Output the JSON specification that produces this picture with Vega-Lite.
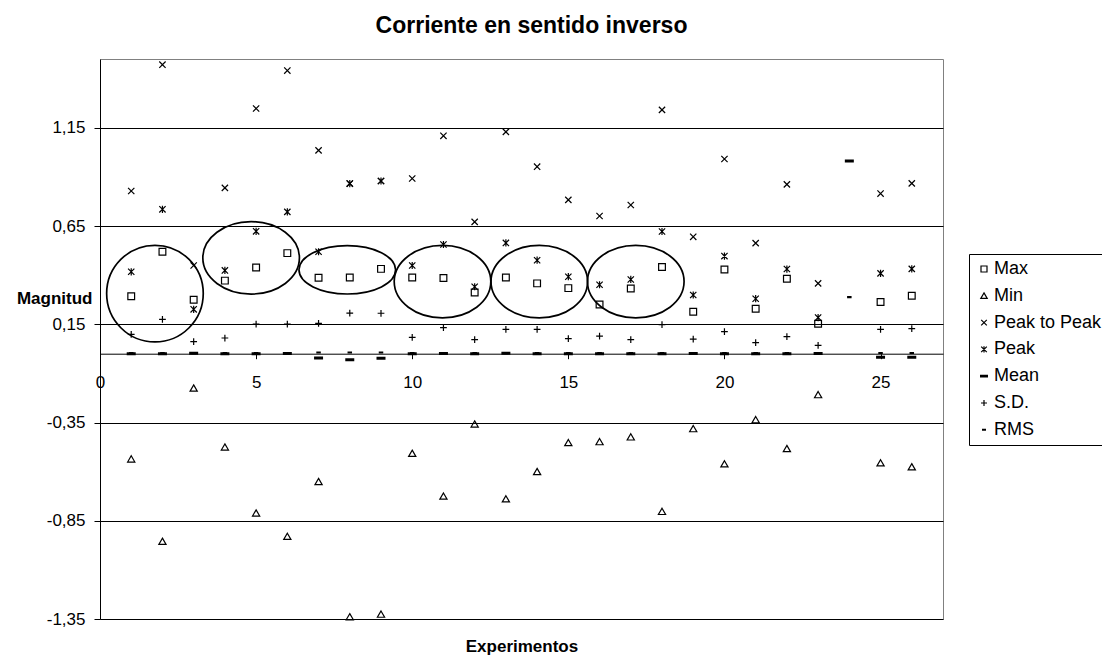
{
  "$schema": "https://vega.github.io/schema/vega-lite/v6.json",
  "autosize": {"type": "none"},
  "padding": {"left": 100, "top": 59, "right": 159, "bottom": 38},
  "width": 843,
  "height": 560,
  "background": "white",
  "config": {
    "font": "Liberation Sans",
    "view": {"stroke": "#808080", "strokeWidth": 1}
  },
  "title": {
    "text": "Corriente en sentido inverso",
    "font": "Liberation Sans",
    "fontSize": 23,
    "fontWeight": "bold",
    "color": "black",
    "anchor": "middle",
    "frame": "group",
    "dx": 10,
    "baseline": "alphabetic",
    "offset": 3
  },
  "datasets": {
    "medidas": [
      {"exp": 1, "serie": "Max", "valor": 0.293}, {"exp": 2, "serie": "Max", "valor": 0.519}, {"exp": 3, "serie": "Max", "valor": 0.275}, {"exp": 4, "serie": "Max", "valor": 0.372}, {"exp": 5, "serie": "Max", "valor": 0.439}, {"exp": 6, "serie": "Max", "valor": 0.512}, {"exp": 7, "serie": "Max", "valor": 0.387}, {"exp": 8, "serie": "Max", "valor": 0.388}, {"exp": 9, "serie": "Max", "valor": 0.432}, {"exp": 10, "serie": "Max", "valor": 0.388}, {"exp": 11, "serie": "Max", "valor": 0.385}, {"exp": 12, "serie": "Max", "valor": 0.312}, {"exp": 13, "serie": "Max", "valor": 0.388}, {"exp": 14, "serie": "Max", "valor": 0.358}, {"exp": 15, "serie": "Max", "valor": 0.334}, {"exp": 16, "serie": "Max", "valor": 0.251}, {"exp": 17, "serie": "Max", "valor": 0.332}, {"exp": 18, "serie": "Max", "valor": 0.441}, {"exp": 19, "serie": "Max", "valor": 0.214}, {"exp": 20, "serie": "Max", "valor": 0.429}, {"exp": 21, "serie": "Max", "valor": 0.229}, {"exp": 22, "serie": "Max", "valor": 0.382}, {"exp": 23, "serie": "Max", "valor": 0.153}, {"exp": 25, "serie": "Max", "valor": 0.263}, {"exp": 26, "serie": "Max", "valor": 0.295},
      {"exp": 1, "serie": "Min", "valor": -0.536}, {"exp": 2, "serie": "Min", "valor": -0.955}, {"exp": 3, "serie": "Min", "valor": -0.175}, {"exp": 4, "serie": "Min", "valor": -0.475}, {"exp": 5, "serie": "Min", "valor": -0.811}, {"exp": 6, "serie": "Min", "valor": -0.93}, {"exp": 7, "serie": "Min", "valor": -0.651}, {"exp": 8, "serie": "Min", "valor": -1.339}, {"exp": 9, "serie": "Min", "valor": -1.326}, {"exp": 10, "serie": "Min", "valor": -0.507}, {"exp": 11, "serie": "Min", "valor": -0.725}, {"exp": 12, "serie": "Min", "valor": -0.358}, {"exp": 13, "serie": "Min", "valor": -0.739}, {"exp": 14, "serie": "Min", "valor": -0.6}, {"exp": 15, "serie": "Min", "valor": -0.453}, {"exp": 16, "serie": "Min", "valor": -0.448}, {"exp": 17, "serie": "Min", "valor": -0.424}, {"exp": 18, "serie": "Min", "valor": -0.803}, {"exp": 19, "serie": "Min", "valor": -0.382}, {"exp": 20, "serie": "Min", "valor": -0.561}, {"exp": 21, "serie": "Min", "valor": -0.336}, {"exp": 22, "serie": "Min", "valor": -0.483}, {"exp": 23, "serie": "Min", "valor": -0.209}, {"exp": 25, "serie": "Min", "valor": -0.556}, {"exp": 26, "serie": "Min", "valor": -0.576},
      {"exp": 1, "serie": "Peak to Peak", "valor": 0.828}, {"exp": 2, "serie": "Peak to Peak", "valor": 1.471}, {"exp": 3, "serie": "Peak to Peak", "valor": 0.449}, {"exp": 4, "serie": "Peak to Peak", "valor": 0.844}, {"exp": 5, "serie": "Peak to Peak", "valor": 1.248}, {"exp": 6, "serie": "Peak to Peak", "valor": 1.441}, {"exp": 7, "serie": "Peak to Peak", "valor": 1.035}, {"exp": 8, "serie": "Peak to Peak", "valor": 0.866}, {"exp": 9, "serie": "Peak to Peak", "valor": 0.879}, {"exp": 10, "serie": "Peak to Peak", "valor": 0.892}, {"exp": 11, "serie": "Peak to Peak", "valor": 1.109}, {"exp": 12, "serie": "Peak to Peak", "valor": 0.671}, {"exp": 13, "serie": "Peak to Peak", "valor": 1.129}, {"exp": 14, "serie": "Peak to Peak", "valor": 0.952}, {"exp": 15, "serie": "Peak to Peak", "valor": 0.783}, {"exp": 16, "serie": "Peak to Peak", "valor": 0.701}, {"exp": 17, "serie": "Peak to Peak", "valor": 0.757}, {"exp": 18, "serie": "Peak to Peak", "valor": 1.241}, {"exp": 19, "serie": "Peak to Peak", "valor": 0.595}, {"exp": 20, "serie": "Peak to Peak", "valor": 0.991}, {"exp": 21, "serie": "Peak to Peak", "valor": 0.563}, {"exp": 22, "serie": "Peak to Peak", "valor": 0.862}, {"exp": 23, "serie": "Peak to Peak", "valor": 0.358}, {"exp": 25, "serie": "Peak to Peak", "valor": 0.815}, {"exp": 26, "serie": "Peak to Peak", "valor": 0.867},
      {"exp": 1, "serie": "Peak", "valor": 0.417}, {"exp": 2, "serie": "Peak", "valor": 0.735}, {"exp": 3, "serie": "Peak", "valor": 0.226}, {"exp": 4, "serie": "Peak", "valor": 0.424}, {"exp": 5, "serie": "Peak", "valor": 0.623}, {"exp": 6, "serie": "Peak", "valor": 0.722}, {"exp": 7, "serie": "Peak", "valor": 0.519}, {"exp": 8, "serie": "Peak", "valor": 0.866}, {"exp": 9, "serie": "Peak", "valor": 0.879}, {"exp": 10, "serie": "Peak", "valor": 0.449}, {"exp": 11, "serie": "Peak", "valor": 0.556}, {"exp": 12, "serie": "Peak", "valor": 0.341}, {"exp": 13, "serie": "Peak", "valor": 0.564}, {"exp": 14, "serie": "Peak", "valor": 0.476}, {"exp": 15, "serie": "Peak", "valor": 0.392}, {"exp": 16, "serie": "Peak", "valor": 0.351}, {"exp": 17, "serie": "Peak", "valor": 0.378}, {"exp": 18, "serie": "Peak", "valor": 0.622}, {"exp": 19, "serie": "Peak", "valor": 0.299}, {"exp": 20, "serie": "Peak", "valor": 0.497}, {"exp": 21, "serie": "Peak", "valor": 0.28}, {"exp": 22, "serie": "Peak", "valor": 0.431}, {"exp": 23, "serie": "Peak", "valor": 0.184}, {"exp": 25, "serie": "Peak", "valor": 0.409}, {"exp": 26, "serie": "Peak", "valor": 0.432},
      {"exp": 1, "serie": "Mean", "valor": 0.0}, {"exp": 2, "serie": "Mean", "valor": 0.0}, {"exp": 3, "serie": "Mean", "valor": 0.002}, {"exp": 4, "serie": "Mean", "valor": 0.0}, {"exp": 5, "serie": "Mean", "valor": 0.0}, {"exp": 6, "serie": "Mean", "valor": 0.001}, {"exp": 7, "serie": "Mean", "valor": -0.022}, {"exp": 8, "serie": "Mean", "valor": -0.031}, {"exp": 9, "serie": "Mean", "valor": -0.023}, {"exp": 10, "serie": "Mean", "valor": 0.0}, {"exp": 11, "serie": "Mean", "valor": 0.001}, {"exp": 12, "serie": "Mean", "valor": 0.0}, {"exp": 13, "serie": "Mean", "valor": 0.002}, {"exp": 14, "serie": "Mean", "valor": 0.0}, {"exp": 15, "serie": "Mean", "valor": 0.0}, {"exp": 16, "serie": "Mean", "valor": 0.0}, {"exp": 17, "serie": "Mean", "valor": 0.0}, {"exp": 18, "serie": "Mean", "valor": 0.0}, {"exp": 19, "serie": "Mean", "valor": 0.001}, {"exp": 20, "serie": "Mean", "valor": 0.0}, {"exp": 21, "serie": "Mean", "valor": 0.0}, {"exp": 22, "serie": "Mean", "valor": 0.0}, {"exp": 23, "serie": "Mean", "valor": 0.001}, {"exp": 24, "serie": "Mean", "valor": 0.981}, {"exp": 25, "serie": "Mean", "valor": -0.018}, {"exp": 26, "serie": "Mean", "valor": -0.018},
      {"exp": 1, "serie": "S.D.", "valor": 0.099}, {"exp": 2, "serie": "S.D.", "valor": 0.175}, {"exp": 3, "serie": "S.D.", "valor": 0.062}, {"exp": 4, "serie": "S.D.", "valor": 0.08}, {"exp": 5, "serie": "S.D.", "valor": 0.151}, {"exp": 6, "serie": "S.D.", "valor": 0.151}, {"exp": 7, "serie": "S.D.", "valor": 0.155}, {"exp": 8, "serie": "S.D.", "valor": 0.207}, {"exp": 9, "serie": "S.D.", "valor": 0.206}, {"exp": 10, "serie": "S.D.", "valor": 0.083}, {"exp": 11, "serie": "S.D.", "valor": 0.133}, {"exp": 12, "serie": "S.D.", "valor": 0.072}, {"exp": 13, "serie": "S.D.", "valor": 0.124}, {"exp": 14, "serie": "S.D.", "valor": 0.124}, {"exp": 15, "serie": "S.D.", "valor": 0.077}, {"exp": 16, "serie": "S.D.", "valor": 0.09}, {"exp": 17, "serie": "S.D.", "valor": 0.072}, {"exp": 18, "serie": "S.D.", "valor": 0.148}, {"exp": 19, "serie": "S.D.", "valor": 0.074}, {"exp": 20, "serie": "S.D.", "valor": 0.113}, {"exp": 21, "serie": "S.D.", "valor": 0.057}, {"exp": 22, "serie": "S.D.", "valor": 0.087}, {"exp": 23, "serie": "S.D.", "valor": 0.043}, {"exp": 25, "serie": "S.D.", "valor": 0.124}, {"exp": 26, "serie": "S.D.", "valor": 0.128},
      {"exp": 1, "serie": "RMS", "valor": 0.003}, {"exp": 2, "serie": "RMS", "valor": 0.003}, {"exp": 3, "serie": "RMS", "valor": 0.003}, {"exp": 4, "serie": "RMS", "valor": 0.003}, {"exp": 5, "serie": "RMS", "valor": 0.003}, {"exp": 6, "serie": "RMS", "valor": 0.003}, {"exp": 7, "serie": "RMS", "valor": 0.006}, {"exp": 8, "serie": "RMS", "valor": 0.006}, {"exp": 9, "serie": "RMS", "valor": 0.006}, {"exp": 10, "serie": "RMS", "valor": 0.003}, {"exp": 11, "serie": "RMS", "valor": 0.003}, {"exp": 12, "serie": "RMS", "valor": 0.003}, {"exp": 13, "serie": "RMS", "valor": 0.003}, {"exp": 14, "serie": "RMS", "valor": 0.003}, {"exp": 15, "serie": "RMS", "valor": 0.003}, {"exp": 16, "serie": "RMS", "valor": 0.003}, {"exp": 17, "serie": "RMS", "valor": 0.003}, {"exp": 18, "serie": "RMS", "valor": 0.003}, {"exp": 19, "serie": "RMS", "valor": 0.003}, {"exp": 20, "serie": "RMS", "valor": 0.003}, {"exp": 21, "serie": "RMS", "valor": 0.003}, {"exp": 22, "serie": "RMS", "valor": 0.003}, {"exp": 23, "serie": "RMS", "valor": 0.003}, {"exp": 24, "serie": "RMS", "valor": 0.288}, {"exp": 25, "serie": "RMS", "valor": 0.004}, {"exp": 26, "serie": "RMS", "valor": 0.004}
    ],
    "elipses": [
      {"exp": 1.76, "valor": 0.306, "forma": "redonda"},
      {"exp": 4.84, "valor": 0.488, "forma": "ovalada"},
      {"exp": 7.92, "valor": 0.427, "forma": "plana"},
      {"exp": 10.97, "valor": 0.367, "forma": "ovalada"},
      {"exp": 14.07, "valor": 0.367, "forma": "ovalada"},
      {"exp": 17.16, "valor": 0.367, "forma": "ovalada"}
    ]
  },
  "encoding": {
    "x": {
      "field": "exp", "type": "quantitative",
      "scale": {"domain": [0, 27], "nice": false, "zero": false},
      "axis": {
        "orient": "bottom", "offset": -265.3, "values": [0, 5, 10, 15, 20, 25], "format": "d",
        "grid": false, "domainColor": "black", "domainWidth": 1,
        "tickColor": "black", "tickSize": 5, "tickWidth": 1,
        "labelFont": "Liberation Sans", "labelFontSize": 17, "labelColor": "black", "labelPadding": 16,
        "labelFlush": false, "labelOverlap": false,
        "title": "Experimentos", "titleFont": "Liberation Sans", "titleFontSize": 17, "titleFontWeight": "bold",
        "titleColor": "black", "titleY": 293, "titleBaseline": "middle"
      }
    },
    "y": {
      "field": "valor", "type": "quantitative",
      "scale": {"domain": [-1.35, 1.5], "nice": false, "zero": false},
      "axis": {
        "values": [-1.35, -0.85, -0.35, 0.15, 0.65, 1.15],
        "labelExpr": "replace(replace(format(datum.value, '.2f'), '.', ','), '\u2212', '-')",
        "grid": true, "gridColor": "black", "gridWidth": 1, "gridOpacity": 1,
        "domainColor": "black", "domainWidth": 1,
        "tickColor": "black", "tickSize": 6, "tickWidth": 1,
        "labelFont": "Liberation Sans", "labelFontSize": 17, "labelColor": "black", "labelPadding": 9,
        "labelFlush": false, "labelOverlap": false,
        "title": "Magnitud", "titleFont": "Liberation Sans", "titleFontSize": 17, "titleFontWeight": "bold",
        "titleColor": "black", "titleAngle": 0, "titleAlign": "right", "titleBaseline": "middle",
        "titleX": -8, "titleY": 239
      }
    }
  },
  "layer": [
    {
      "data": {"name": "elipses"},
      "mark": {"type": "point", "filled": false, "stroke": "black", "strokeWidth": 1.7, "size": 9332, "opacity": 1},
      "encoding": {
        "shape": {
          "field": "forma", "type": "nominal", "legend": null,
          "scale": {
            "domain": ["redonda", "ovalada", "plana"],
            "range": [
              "M-1,0C-1,-0.5523,-0.5523,-1,0,-1C0.5523,-1,1,-0.5523,1,0C1,0.5523,0.5523,1,0,1C-0.5523,1,-1,0.5523,-1,0Z",
              "M-1,0C-1,-0.4142,-0.5523,-0.75,0,-0.75C0.5523,-0.75,1,-0.4142,1,0C1,0.4142,0.5523,0.75,0,0.75C-0.5523,0.75,-1,0.4142,-1,0Z",
              "M-1,0C-1,-0.2762,-0.5523,-0.5,0,-0.5C0.5523,-0.5,1,-0.2762,1,0C1,0.2762,0.5523,0.5,0,0.5C-0.5523,0.5,-1,0.2762,-1,0Z"
            ]
          }
        }
      }
    },
    {
      "data": {"name": "medidas"},
      "mark": {"type": "point", "filled": false, "stroke": "black", "strokeWidth": 1.2, "size": 81, "opacity": 1},
      "encoding": {
        "shape": {
          "field": "serie", "type": "nominal",
          "scale": {
            "domain": ["Max", "Min", "Peak to Peak", "Peak", "Mean", "S.D.", "RMS"],
            "range": [
              "M-0.75,-0.75L0.75,-0.75L0.75,0.75L-0.75,0.75Z",
              "M0,-0.72L0.8,0.66L-0.8,0.66Z",
              "M-0.7,-0.7L0.7,0.7M-0.7,0.7L0.7,-0.7",
              "M-0.7,-0.7L0.7,0.7M-0.7,0.7L0.7,-0.7M0,-0.8L0,0.8",
              "M-1,-0.2L1,-0.2M-1,0L1,0M-1,0.2L1,0.2",
              "M-0.75,0L0.75,0M0,-0.75L0,0.75",
              "M-0.5,-0.1L0.5,-0.1M-0.5,0.1L0.5,0.1"
            ]
          },
          "legend": {
            "title": null, "orient": "none", "legendX": 869, "legendY": 195,
            "strokeColor": "black", "fillColor": "white", "padding": 6,
            "labelFont": "Liberation Sans", "labelFontSize": 18, "labelColor": "black", "labelOffset": 1,
            "symbolSize": 64, "symbolStrokeColor": "black", "symbolStrokeWidth": 1.2, "symbolOffset": 0,
            "rowPadding": 8.8
          }
        }
      }
    }
  ],
  "resolve": {"scale": {"shape": "independent"}}
}
